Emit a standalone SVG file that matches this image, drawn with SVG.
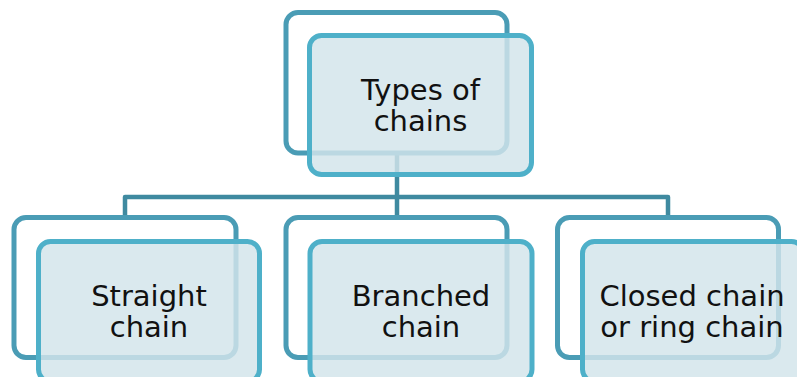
<svg xmlns="http://www.w3.org/2000/svg" width="797" height="377" viewBox="0 0 797 377">
<style>
.back{fill:#ffffff;stroke:#4a9cb5;stroke-width:5}
.front{fill:#d3e4eb;fill-opacity:0.83;stroke:#4eb0c9;stroke-width:5}
.conn{fill:none;stroke:#3f8aa0;stroke-width:4.5;stroke-linejoin:round}
text{font-family:"DejaVu Sans","Verdana",sans-serif;font-size:29px;fill:#111111;text-anchor:middle}
</style>
<rect width="797" height="377" fill="#ffffff"/>
<g id="connectors">
<path class="conn" d="M397,153 V197 M125,217.5 V197 H668 V217.5 M397,197 V217.5"/>
</g>
<g id="node-top">
<rect class="back" x="286" y="12.5" width="221" height="140.5" rx="12"/>
<rect class="front" x="309.5" y="35.5" width="222" height="139" rx="12"/>
<text x="420.5" y="100">Types of</text>
<text x="420.5" y="131">chains</text>
</g>
<g id="node-straight">
<rect class="back" x="14" y="217.5" width="222" height="140" rx="12"/>
<rect class="front" x="38.5" y="241.5" width="221" height="140" rx="12"/>
<text x="149" y="306">Straight</text>
<text x="149" y="337">chain</text>
</g>
<g id="node-branched">
<rect class="back" x="286" y="217.5" width="221" height="140" rx="12"/>
<rect class="front" x="310" y="241.5" width="222" height="140" rx="12"/>
<text x="421" y="306">Branched</text>
<text x="421" y="337">chain</text>
</g>
<g id="node-closed">
<rect class="back" x="557.5" y="217.5" width="221" height="140" rx="12"/>
<rect class="front" x="582.5" y="241.5" width="221" height="140" rx="12"/>
<text x="692" y="306">Closed chain</text>
<text x="692" y="337">or ring chain</text>
</g>
</svg>
